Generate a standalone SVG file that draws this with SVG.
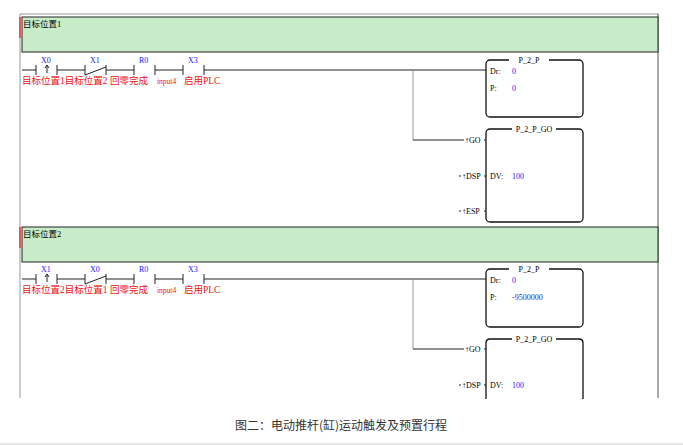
<svg xmlns="http://www.w3.org/2000/svg" width="683" height="445" viewBox="0 0 683 445">
<style>
.t{font-family:"Liberation Serif",serif;font-size:8px}
.b{fill:#2222ee}.r{fill:#ee1111;font-family:"Liberation Serif","Noto Sans CJK SC",serif;font-size:9.5px}
.w{stroke:#222;stroke-width:1;fill:none}
.box{fill:#fff;stroke:#111;stroke-width:1.3}
.band{fill:#c8ecc8;stroke:#222;stroke-width:1}
.g{stroke:#999;stroke-width:1;fill:none}
</style>
<rect width="683" height="445" fill="#fff"/>
<g id="frame">
<line x1="20" y1="14" x2="659" y2="14" stroke="#999"/>
<line x1="20" y1="14" x2="20" y2="398" stroke="#999"/>
<line x1="658" y1="14" x2="658" y2="398" stroke="#555"/>
<line x1="20" y1="17" x2="20" y2="38" stroke="#e33" stroke-width="1.5"/>
<line x1="20" y1="227" x2="20" y2="248" stroke="#e33" stroke-width="1.5"/>
</g>
<g id="band1"><rect class="band" x="22" y="17" width="636" height="35"/><text x="23" y="27" style="font-family:'Liberation Serif','Noto Sans CJK SC',serif;font-size:8.5px">目标位置1</text></g>
<g id="band2"><rect class="band" x="22" y="227" width="636" height="35"/><text x="23" y="237" style="font-family:'Liberation Serif','Noto Sans CJK SC',serif;font-size:8.5px">目标位置2</text></g>
<g id="connectors">
<path class="w" d="M22 70H36M57 70H85M106 70H134M155 70H183M204 70H486"/>
<path class="w" d="M36 65V75M57 65V75M85 65V75M106 65V75M134 65V75M155 65V75M183 65V75M204 65V75M85 75L106 67"/>
<path d="M47 73V66M45 68L47 65L49 68" class="w"/>
<path class="g" d="M413 70V140"/><path class="w" d="M413 140H464"/>
<path class="w" d="M22 279H36M57 279H85M106 279H134M155 279H183M204 279H486"/>
<path class="w" d="M36 274V284M57 274V284M85 274V284M106 274V284M134 274V284M155 274V284M183 274V284M204 274V284M85 284L106 276"/>
<path d="M47 282V275M45 277L47 274L49 277" class="w"/>
<path class="g" d="M413 279V349"/><path class="w" d="M413 349H464"/>
<path class="w" d="M484 140H486M484 176H486M484 211H486M484 349H486M484 385H486M459 176H461M459 211H461M459 385H461"/>
</g>
<g id="rung1-labels">
<text class="t b" x="41" y="63">X0</text><text class="t b" x="90" y="63">X1</text><text class="t b" x="139" y="63">R0</text><text class="t b" x="188" y="63">X3</text>
<text class="r" x="22" y="84">目标位置1目标位置2 回零完成</text><text class="r" x="157" y="84" style="font-size:7.5px">input4</text><text class="r" x="184" y="84">启用PLC</text>
</g>
<g id="rung2-labels">
<text class="t b" x="41" y="272">X1</text><text class="t b" x="90" y="272">X0</text><text class="t b" x="139" y="272">R0</text><text class="t b" x="188" y="272">X3</text>
<text class="r" x="22" y="293">目标位置2目标位置1 回零完成</text><text class="r" x="157" y="293" style="font-size:7.5px">input4</text><text class="r" x="184" y="293">启用PLC</text>
</g>
<g id="p2p1"><rect class="box" x="486" y="60" width="97" height="57" rx="4"/><rect x="509" y="56" width="40" height="8" fill="#fff"/><text class="t" x="529" y="63" text-anchor="middle">P_2_P</text>
<text class="t" x="490" y="74">Dr:</text><text class="t b" x="512" y="74">0</text><text class="t" x="490" y="91">P:</text><text class="t b" x="512" y="91">0</text></g>
<g id="p2pgo1"><rect class="box" x="486" y="129" width="97" height="93" rx="4"/><rect x="512" y="125" width="44" height="8" fill="#fff"/><text class="t" x="534" y="132" text-anchor="middle">P_2_P_GO</text>
<text class="t" x="465" y="143">↑GO</text><text class="t" x="462" y="179">↑DSP</text><text class="t" x="462" y="214">↑ESP</text>
<text class="t" x="490" y="179">DV:</text><text class="t b" x="512" y="179">100</text></g>
<g id="p2p2"><rect class="box" x="486" y="269" width="97" height="58" rx="4"/><rect x="509" y="265" width="40" height="8" fill="#fff"/><text class="t" x="529" y="272" text-anchor="middle">P_2_P</text>
<text class="t" x="490" y="283">Dr:</text><text class="t b" x="512" y="283">0</text><text class="t" x="490" y="300">P:</text><text class="t b" x="512" y="300">-9500000</text></g>
<g id="p2pgo2"><path class="box" d="M486 399V343Q486 339 490 339H579Q583 339 583 343V399"/><rect x="512" y="335" width="44" height="8" fill="#fff"/><text class="t" x="534" y="342" text-anchor="middle">P_2_P_GO</text>
<text class="t" x="465" y="352">↑GO</text><text class="t" x="462" y="388">↑DSP</text>
<text class="t" x="490" y="388">DV:</text><text class="t b" x="512" y="388">100</text></g>
<rect x="0" y="399" width="683" height="46" fill="#fff"/>
<text x="341" y="430" text-anchor="middle" style="font-family:'Noto Sans CJK SC',sans-serif;font-size:12px;fill:#333">图二：电动推杆(缸)运动触发及预置行程</text>
<line x1="0" y1="444" x2="683" y2="444" stroke="#ccc"/>
</svg>
